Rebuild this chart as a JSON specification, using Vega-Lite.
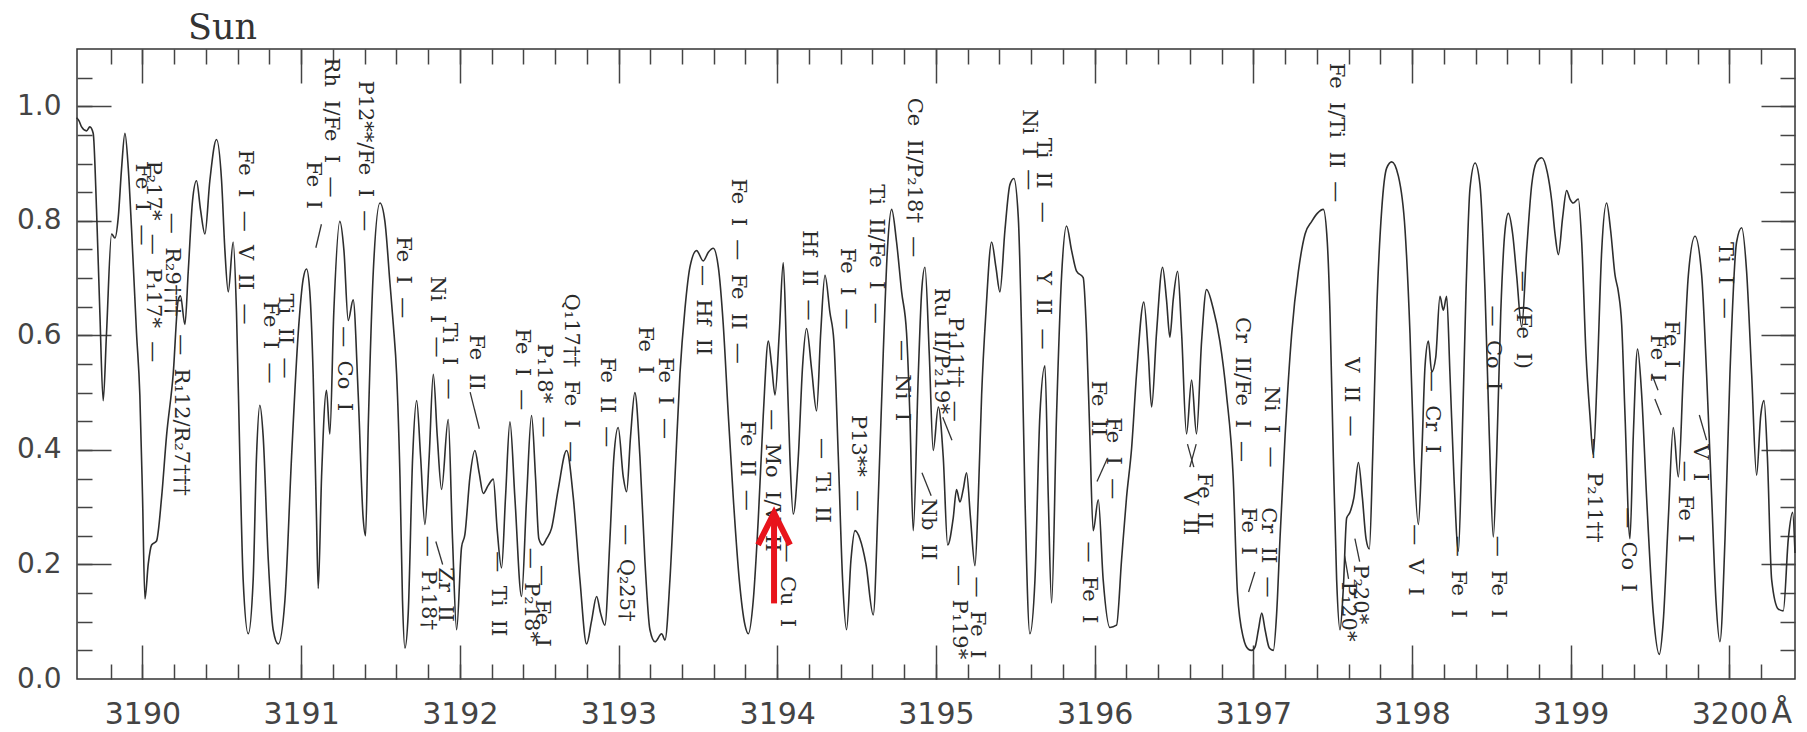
{
  "$schema": "https://vega.github.io/schema/vega-lite/v6.json",
  "width": 1718,
  "height": 630,
  "autosize": {"type": "none"},
  "padding": {"left": 77, "top": 49, "right": 12, "bottom": 53},
  "background": "white",
  "config": {
    "view": {"stroke": "#333333", "strokeWidth": 1.5},
    "axis": {"grid": false, "domain": false, "title": null, "labelFlush": false, "labelOverlap": false, "tickColor": "#444444", "tickWidth": 1.5}
  },
  "title": {"text": "Sun", "anchor": "start", "frame": "group", "dx": 111, "offset": -26, "baseline": "alphabetic", "font": "DejaVu Serif", "fontSize": 35, "fontWeight": "normal", "color": "#333333"},
  "datasets": {
    "spec": [
      {"w":3189.585,"f":0.98},{"w":3189.600,"f":0.975},{"w":3189.617,"f":0.964},{"w":3189.648,"f":0.957},{"w":3189.669,"f":0.964},{"w":3189.690,"f":0.953},{"w":3189.711,"f":0.82},{"w":3189.732,"f":0.64},{"w":3189.753,"f":0.486},{"w":3189.774,"f":0.604},{"w":3189.806,"f":0.777},{"w":3189.827,"f":0.770},{"w":3189.848,"f":0.806},{"w":3189.869,"f":0.892},{"w":3189.890,"f":0.953},{"w":3189.911,"f":0.892},{"w":3189.932,"f":0.784},{"w":3189.963,"f":0.604},{"w":3189.984,"f":0.496},{"w":3190.001,"f":0.317},{"w":3190.016,"f":0.140},{"w":3190.037,"f":0.201},{"w":3190.058,"f":0.234},{"w":3190.089,"f":0.241},{"w":3190.121,"f":0.317},{"w":3190.152,"f":0.424},{"w":3190.194,"f":0.532},{"w":3190.226,"f":0.662},{"w":3190.240,"f":0.669},{"w":3190.268,"f":0.619},{"w":3190.289,"f":0.712},{"w":3190.316,"f":0.835},{"w":3190.341,"f":0.870},{"w":3190.366,"f":0.820},{"w":3190.394,"f":0.777},{"w":3190.425,"f":0.870},{"w":3190.467,"f":0.942},{"w":3190.499,"f":0.870},{"w":3190.520,"f":0.748},{"w":3190.541,"f":0.676},{"w":3190.572,"f":0.763},{"w":3190.593,"f":0.640},{"w":3190.614,"f":0.388},{"w":3190.635,"f":0.173},{"w":3190.667,"f":0.079},{"w":3190.698,"f":0.173},{"w":3190.719,"f":0.388},{"w":3190.740,"f":0.478},{"w":3190.761,"f":0.424},{"w":3190.793,"f":0.209},{"w":3190.824,"f":0.086},{"w":3190.856,"f":0.061},{"w":3190.898,"f":0.137},{"w":3190.940,"f":0.388},{"w":3190.982,"f":0.604},{"w":3191.013,"f":0.698},{"w":3191.034,"f":0.716},{"w":3191.055,"f":0.676},{"w":3191.076,"f":0.532},{"w":3191.097,"f":0.281},{"w":3191.108,"f":0.158},{"w":3191.129,"f":0.353},{"w":3191.160,"f":0.504},{"w":3191.181,"f":0.428},{"w":3191.206,"f":0.640},{"w":3191.244,"f":0.799},{"w":3191.270,"f":0.748},{"w":3191.297,"f":0.626},{"w":3191.328,"f":0.662},{"w":3191.360,"f":0.496},{"w":3191.391,"f":0.281},{"w":3191.406,"f":0.250},
      {"w":3191.423,"f":0.440},{"w":3191.455,"f":0.712},{"w":3191.497,"f":0.831},{"w":3191.528,"f":0.799},{"w":3191.560,"f":0.691},{"w":3191.581,"f":0.619},{"w":3191.602,"f":0.532},{"w":3191.623,"f":0.353},{"w":3191.639,"f":0.137},{"w":3191.654,"f":0.054},{"w":3191.675,"f":0.115},{"w":3191.703,"f":0.388},{"w":3191.728,"f":0.486},{"w":3191.753,"f":0.388},{"w":3191.780,"f":0.270},{"w":3191.807,"f":0.388},{"w":3191.833,"f":0.532},{"w":3191.858,"f":0.424},{"w":3191.885,"f":0.331},{"w":3191.927,"f":0.453},{"w":3191.954,"f":0.245},{"w":3191.980,"f":0.086},{"w":3192.011,"f":0.230},{"w":3192.032,"f":0.252},{"w":3192.064,"f":0.353},{"w":3192.095,"f":0.399},{"w":3192.122,"f":0.360},{"w":3192.148,"f":0.324},{"w":3192.179,"f":0.338},{"w":3192.211,"f":0.349},{"w":3192.236,"f":0.259},{"w":3192.263,"f":0.194},{"w":3192.288,"f":0.317},{"w":3192.316,"f":0.449},{"w":3192.347,"f":0.317},{"w":3192.389,"f":0.144},{"w":3192.421,"f":0.317},{"w":3192.452,"f":0.460},{"w":3192.477,"f":0.353},{"w":3192.498,"f":0.245},{"w":3192.522,"f":0.234},{"w":3192.547,"f":0.245},{"w":3192.578,"f":0.263},{"w":3192.620,"f":0.331},{"w":3192.673,"f":0.399},{"w":3192.715,"f":0.317},{"w":3192.757,"f":0.173},{"w":3192.799,"f":0.061},{"w":3192.830,"f":0.101},{"w":3192.862,"f":0.144},{"w":3192.887,"f":0.115},{"w":3192.914,"f":0.094},{"w":3192.946,"f":0.245},{"w":3192.971,"f":0.388},{"w":3192.998,"f":0.439},{"w":3193.030,"f":0.353},{"w":3193.051,"f":0.327},{"w":3193.076,"f":0.424},{"w":3193.103,"f":0.500},{"w":3193.135,"f":0.388},{"w":3193.166,"f":0.209},{"w":3193.198,"f":0.086},
      {"w":3193.230,"f":0.065},{"w":3193.272,"f":0.079},{"w":3193.293,"f":0.068},{"w":3193.324,"f":0.173},{"w":3193.356,"f":0.353},{"w":3193.387,"f":0.532},{"w":3193.419,"f":0.647},{"w":3193.450,"f":0.719},{"w":3193.492,"f":0.748},{"w":3193.534,"f":0.730},{"w":3193.566,"f":0.745},{"w":3193.597,"f":0.752},{"w":3193.629,"f":0.719},{"w":3193.660,"f":0.619},{"w":3193.692,"f":0.460},{"w":3193.723,"f":0.317},{"w":3193.761,"f":0.173},{"w":3193.797,"f":0.094},{"w":3193.818,"f":0.079},{"w":3193.849,"f":0.137},{"w":3193.881,"f":0.281},{"w":3193.912,"f":0.460},{"w":3193.944,"f":0.590},{"w":3193.965,"f":0.547},{"w":3193.986,"f":0.496},{"w":3194.013,"f":0.604},{"w":3194.038,"f":0.727},{"w":3194.059,"f":0.568},{"w":3194.080,"f":0.388},{"w":3194.101,"f":0.288},{"w":3194.133,"f":0.388},{"w":3194.160,"f":0.547},{"w":3194.185,"f":0.612},{"w":3194.217,"f":0.540},{"w":3194.248,"f":0.468},{"w":3194.274,"f":0.604},{"w":3194.301,"f":0.705},{"w":3194.332,"f":0.640},{"w":3194.357,"f":0.590},{"w":3194.385,"f":0.388},{"w":3194.412,"f":0.173},{"w":3194.437,"f":0.086},{"w":3194.465,"f":0.209},{"w":3194.490,"f":0.259},{"w":3194.521,"f":0.245},{"w":3194.559,"f":0.201},{"w":3194.605,"f":0.112},{"w":3194.637,"f":0.317},{"w":3194.668,"f":0.568},{"w":3194.694,"f":0.748},{"w":3194.721,"f":0.820},{"w":3194.752,"f":0.763},{"w":3194.784,"f":0.676},{"w":3194.815,"f":0.604},{"w":3194.836,"f":0.460},{"w":3194.857,"f":0.259},{"w":3194.889,"f":0.532},{"w":3194.910,"f":0.676},{"w":3194.931,"f":0.719},{"w":3194.958,"f":0.568},{"w":3194.983,"f":0.399},{"w":3195.015,"f":0.475},{"w":3195.046,"f":0.388},{"w":3195.074,"f":0.234},
      {"w":3195.109,"f":0.281},{"w":3195.130,"f":0.331},{"w":3195.151,"f":0.309},{"w":3195.172,"f":0.331},{"w":3195.193,"f":0.360},{"w":3195.218,"f":0.281},{"w":3195.246,"f":0.198},{"w":3195.267,"f":0.317},{"w":3195.288,"f":0.496},{"w":3195.315,"f":0.640},{"w":3195.351,"f":0.763},{"w":3195.378,"f":0.719},{"w":3195.403,"f":0.676},{"w":3195.435,"f":0.784},{"w":3195.466,"f":0.863},{"w":3195.491,"f":0.874},{"w":3195.519,"f":0.806},{"w":3195.540,"f":0.604},{"w":3195.561,"f":0.317},{"w":3195.592,"f":0.079},{"w":3195.624,"f":0.173},{"w":3195.655,"f":0.460},{"w":3195.687,"f":0.547},{"w":3195.708,"f":0.317},{"w":3195.729,"f":0.133},{"w":3195.760,"f":0.460},{"w":3195.792,"f":0.705},{"w":3195.823,"f":0.791},{"w":3195.855,"f":0.748},{"w":3195.886,"f":0.712},{"w":3195.928,"f":0.701},{"w":3195.949,"f":0.604},{"w":3195.970,"f":0.424},{"w":3195.991,"f":0.259},{"w":3196.023,"f":0.313},{"w":3196.054,"f":0.173},{"w":3196.096,"f":0.090},{"w":3196.138,"f":0.094},{"w":3196.170,"f":0.209},{"w":3196.201,"f":0.317},{"w":3196.233,"f":0.403},{"w":3196.264,"f":0.532},{"w":3196.310,"f":0.658},{"w":3196.338,"f":0.568},{"w":3196.359,"f":0.475},{"w":3196.390,"f":0.604},{"w":3196.428,"f":0.719},{"w":3196.453,"f":0.662},{"w":3196.474,"f":0.597},{"w":3196.495,"f":0.662},{"w":3196.523,"f":0.712},{"w":3196.548,"f":0.604},{"w":3196.579,"f":0.428},{"w":3196.611,"f":0.522},{"w":3196.642,"f":0.428},{"w":3196.674,"f":0.590},{"w":3196.705,"f":0.680},{"w":3196.747,"f":0.647},{"w":3196.789,"f":0.590},{"w":3196.831,"f":0.496},{"w":3196.873,"f":0.353},{"w":3196.900,"f":0.150},
      {"w":3196.937,"f":0.072},{"w":3196.969,"f":0.052},{"w":3196.990,"f":0.050},{"w":3197.011,"f":0.056},{"w":3197.032,"f":0.086},{"w":3197.053,"f":0.115},{"w":3197.074,"f":0.086},{"w":3197.101,"f":0.054},{"w":3197.126,"f":0.050},{"w":3197.147,"f":0.115},{"w":3197.168,"f":0.245},{"w":3197.200,"f":0.424},{"w":3197.242,"f":0.604},{"w":3197.284,"f":0.712},{"w":3197.326,"f":0.777},{"w":3197.368,"f":0.799},{"w":3197.403,"f":0.813},{"w":3197.441,"f":0.820},{"w":3197.466,"f":0.763},{"w":3197.483,"f":0.640},{"w":3197.504,"f":0.388},{"w":3197.525,"f":0.173},{"w":3197.546,"f":0.086},{"w":3197.567,"f":0.158},{"w":3197.588,"f":0.281},{"w":3197.609,"f":0.291},{"w":3197.634,"f":0.317},{"w":3197.662,"f":0.378},{"w":3197.687,"f":0.317},{"w":3197.710,"f":0.245},{"w":3197.731,"f":0.227},{"w":3197.752,"f":0.388},{"w":3197.777,"f":0.640},{"w":3197.809,"f":0.820},{"w":3197.840,"f":0.892},{"w":3197.872,"f":0.903},{"w":3197.914,"f":0.878},{"w":3197.956,"f":0.784},{"w":3197.987,"f":0.604},{"w":3198.012,"f":0.388},{"w":3198.040,"f":0.270},{"w":3198.061,"f":0.388},{"w":3198.082,"f":0.547},{"w":3198.103,"f":0.590},{"w":3198.124,"f":0.536},{"w":3198.149,"f":0.561},{"w":3198.176,"f":0.668},{"w":3198.197,"f":0.644},{"w":3198.218,"f":0.668},{"w":3198.239,"f":0.532},{"w":3198.264,"f":0.353},{"w":3198.292,"f":0.223},{"w":3198.313,"f":0.388},{"w":3198.340,"f":0.676},{"w":3198.365,"f":0.856},{"w":3198.397,"f":0.901},{"w":3198.428,"f":0.863},{"w":3198.460,"f":0.676},{"w":3198.487,"f":0.424},{"w":3198.512,"f":0.248},{"w":3198.533,"f":0.388},{"w":3198.559,"f":0.640},{"w":3198.586,"f":0.784},{"w":3198.607,"f":0.813},{"w":3198.634,"f":0.777},{"w":3198.659,"f":0.705},{"w":3198.691,"f":0.615},
      {"w":3198.722,"f":0.748},{"w":3198.754,"f":0.863},{"w":3198.785,"f":0.903},{"w":3198.817,"f":0.910},{"w":3198.852,"f":0.885},{"w":3198.880,"f":0.835},{"w":3198.901,"f":0.777},{"w":3198.922,"f":0.741},{"w":3198.949,"f":0.806},{"w":3198.974,"f":0.853},{"w":3198.995,"f":0.838},{"w":3199.016,"f":0.831},{"w":3199.048,"f":0.838},{"w":3199.069,"f":0.763},{"w":3199.096,"f":0.568},{"w":3199.121,"f":0.460},{"w":3199.142,"f":0.392},{"w":3199.167,"f":0.532},{"w":3199.195,"f":0.748},{"w":3199.226,"f":0.831},{"w":3199.251,"f":0.784},{"w":3199.279,"f":0.705},{"w":3199.300,"f":0.676},{"w":3199.321,"f":0.619},{"w":3199.342,"f":0.460},{"w":3199.373,"f":0.245},{"w":3199.394,"f":0.424},{"w":3199.421,"f":0.576},{"w":3199.447,"f":0.496},{"w":3199.478,"f":0.317},{"w":3199.520,"f":0.115},{"w":3199.558,"f":0.043},{"w":3199.583,"f":0.101},{"w":3199.615,"f":0.281},{"w":3199.646,"f":0.439},{"w":3199.678,"f":0.353},{"w":3199.709,"f":0.532},{"w":3199.741,"f":0.705},{"w":3199.783,"f":0.773},{"w":3199.825,"f":0.705},{"w":3199.856,"f":0.532},{"w":3199.888,"f":0.317},{"w":3199.915,"f":0.137},{"w":3199.940,"f":0.065},{"w":3199.972,"f":0.245},{"w":3200.003,"f":0.532},{"w":3200.045,"f":0.763},{"w":3200.077,"f":0.788},{"w":3200.108,"f":0.712},{"w":3200.140,"f":0.532},{"w":3200.171,"f":0.356},{"w":3200.197,"f":0.460},{"w":3200.218,"f":0.486},{"w":3200.239,"f":0.388},{"w":3200.266,"f":0.173},{"w":3200.308,"f":0.122},{"w":3200.339,"f":0.119},{"w":3200.371,"f":0.245},{"w":3200.398,"f":0.291},{"w":3200.413,"f":0.220}
    ],
    "labels": [
      {"w":3189.995,"f":0.900,"t":"Fe\u2007I\u2007—"},
      {"w":3190.068,"f":0.905,"t":"P₂17*\u2007—\u2007P₁17*\u2007—"},
      {"w":3190.184,"f":0.814,"t":"—\u2007R₂9†††"},
      {"w":3190.242,"f":0.602,"t":"—\u2007R₁12/R₂7†††"},
      {"w":3190.649,"f":0.924,"t":"Fe\u2007I\u2007—\u2007V\u2007II\u2007—"},
      {"w":3190.896,"f":0.673,"t":"Ti\u2007II\u2007—"},
      {"w":3190.802,"f":0.659,"t":"Fe\u2007I\u2007—"},
      {"w":3191.186,"f":1.085,"t":"Rh\u2007I/Fe\u2007I\u2007—"},
      {"w":3191.077,"f":0.904,"t":"Fe\u2007I"},
      {"w":3191.404,"f":1.045,"t":"P12**/Fe\u2007I\u2007—"},
      {"w":3191.273,"f":0.616,"t":"—\u2007Co\u2007I"},
      {"w":3191.644,"f":0.773,"t":"Fe\u2007I\u2007—"},
      {"w":3191.854,"f":0.703,"t":"Ni\u2007I\u2007—"},
      {"w":3191.934,"f":0.622,"t":"Ti\u2007I\u2007—"},
      {"w":3192.101,"f":0.602,"t":"Fe\u2007II"},
      {"w":3192.392,"f":0.612,"t":"Fe\u2007I\u2007—"},
      {"w":3192.530,"f":0.586,"t":"P₁18*\u2007—"},
      {"w":3192.700,"f":0.673,"t":"Q₁17††\u2007Fe\u2007I\u2007—"},
      {"w":3192.929,"f":0.562,"t":"Fe\u2007II\u2007—"},
      {"w":3193.169,"f":0.616,"t":"Fe\u2007I"},
      {"w":3193.292,"f":0.562,"t":"Fe\u2007I\u2007—"},
      {"w":3193.045,"f":0.270,"t":"—\u2007Q₂25†"},
      {"w":3191.798,"f":0.250,"t":"—\u2007P₁18†"},
      {"w":3191.905,"f":0.195,"t":"Zr\u2007II"},
      {"w":3192.239,"f":0.223,"t":"—\u2007Ti\u2007II"},
      {"w":3192.450,"f":0.229,"t":"—\u2007P₂18*"},
      {"w":3192.515,"f":0.199,"t":"—\u2007Fe\u2007I"},
      {"w":3193.750,"f":0.874,"t":"Fe\u2007I\u2007—\u2007Fe\u2007II\u2007—"},
      {"w":3193.532,"f":0.723,"t":"—\u2007Hf\u2007II"},
      {"w":3193.808,"f":0.451,"t":"Fe\u2007II\u2007—"},
      {"w":3193.968,"f":0.471,"t":"—\u2007Mo\u2007I/V\u2007II"},
      {"w":3194.062,"f":0.240,"t":"—\u2007Cu\u2007I"},
      {"w":3194.200,"f":0.784,"t":"Hf\u2007II\u2007—"},
      {"w":3194.280,"f":0.421,"t":"—\u2007Ti\u2007II"},
      {"w":3194.440,"f":0.753,"t":"Fe\u2007I\u2007—"},
      {"w":3194.621,"f":0.864,"t":"Ti\u2007II/Fe\u2007I\u2007—"},
      {"w":3194.861,"f":1.015,"t":"Ce\u2007II/P₂18†\u2007—"},
      {"w":3194.788,"f":0.592,"t":"—\u2007Ni\u2007I"},
      {"w":3194.512,"f":0.461,"t":"P13**\u2007—"},
      {"w":3195.035,"f":0.683,"t":"Ru\u2007II/P₂19*"},
      {"w":3195.122,"f":0.632,"t":"P₁11††\u2007—"},
      {"w":3194.948,"f":0.315,"t":"Nb\u2007II"},
      {"w":3195.144,"f":0.199,"t":"—\u2007P₁19*"},
      {"w":3195.260,"f":0.179,"t":"—\u2007Fe\u2007I"},
      {"w":3195.587,"f":0.995,"t":"Ni\u2007I\u2007—"},
      {"w":3195.675,"f":0.945,"t":"Ti\u2007II\u2007—"},
      {"w":3195.675,"f":0.712,"t":"Y\u2007II\u2007—"},
      {"w":3196.023,"f":0.521,"t":"Fe\u2007II"},
      {"w":3196.117,"f":0.457,"t":"Fe\u2007I\u2007—"},
      {"w":3195.965,"f":0.240,"t":"—\u2007Fe\u2007I"},
      {"w":3196.690,"f":0.360,"t":"Fe\u2007II"},
      {"w":3196.604,"f":0.330,"t":"V\u2007II"},
      {"w":3196.930,"f":0.632,"t":"Cr\u2007II/Fe\u2007I\u2007—"},
      {"w":3197.112,"f":0.511,"t":"Ni\u2007I\u2007—"},
      {"w":3197.090,"f":0.300,"t":"Cr\u2007II\u2007—"},
      {"w":3196.966,"f":0.300,"t":"Fe\u2007I"},
      {"w":3197.520,"f":1.076,"t":"Fe\u2007I/Ti\u2007II\u2007—"},
      {"w":3197.613,"f":0.562,"t":"V\u2007II\u2007—"},
      {"w":3197.671,"f":0.200,"t":"P₂20*"},
      {"w":3197.599,"f":0.170,"t":"P₁20*"},
      {"w":3198.128,"f":0.538,"t":"—\u2007Cr\u2007I"},
      {"w":3198.019,"f":0.270,"t":"—\u2007V\u2007I"},
      {"w":3198.288,"f":0.250,"t":"—\u2007Fe\u2007I"},
      {"w":3198.513,"f":0.652,"t":"—\u2007Co\u2007I"},
      {"w":3198.542,"f":0.250,"t":"—\u2007Fe\u2007I"},
      {"w":3198.702,"f":0.713,"t":"—\u2007(Fe\u2007I)"},
      {"w":3199.145,"f":0.421,"t":"—\u2007P₂11††"},
      {"w":3199.363,"f":0.300,"t":"—\u2007Co\u2007I"},
      {"w":3199.545,"f":0.602,"t":"Fe\u2007I"},
      {"w":3199.632,"f":0.626,"t":"Fe\u2007I"},
      {"w":3199.814,"f":0.410,"t":"V\u2007I"},
      {"w":3199.720,"f":0.381,"t":"—\u2007Fe\u2007I"},
      {"w":3199.972,"f":0.763,"t":"Ti\u2007I\u2007—"}
    ],
    "leaders": [
      {"w":3191.093,"f":0.753,"w2":3191.128,"f2":0.794},
      {"w":3192.065,"f":0.501,"w2":3192.123,"f2":0.437},
      {"w":3191.849,"f":0.240,"w2":3191.892,"f2":0.200},
      {"w":3194.912,"f":0.360,"w2":3194.970,"f2":0.320},
      {"w":3195.043,"f":0.457,"w2":3195.101,"f2":0.417},
      {"w":3196.015,"f":0.345,"w2":3196.080,"f2":0.385},
      {"w":3196.585,"f":0.410,"w2":3196.625,"f2":0.370},
      {"w":3196.640,"f":0.410,"w2":3196.600,"f2":0.370},
      {"w":3196.970,"f":0.152,"w2":3197.010,"f2":0.187},
      {"w":3197.640,"f":0.245,"w2":3197.670,"f2":0.205},
      {"w":3197.575,"f":0.215,"w2":3197.600,"f2":0.175},
      {"w":3199.510,"f":0.533,"w2":3199.550,"f2":0.504},
      {"w":3199.530,"f":0.489,"w2":3199.570,"f2":0.461},
      {"w":3199.810,"f":0.461,"w2":3199.856,"f2":0.417}
    ],
    "one": [{"w":3195,"f":0.5}]
  },
  "resolve": {"axis": {"x": "independent", "y": "independent"}},
  "layer": [
    {
      "data": {"name": "spec"},
      "mark": {"type": "line", "color": "#2e2e2e", "strokeWidth": 1.6, "interpolate": "monotone"},
      "encoding": {
        "x": {"field": "w", "type": "quantitative", "scale": {"domain": [3189.588, 3200.413], "nice": false, "zero": false},
          "axis": {"orient": "bottom", "values": [3190,3191,3192,3193,3194,3195,3196,3197,3198,3199,3200], "format": "d", "ticks": false, "labelPadding": 20, "labelFont": "DejaVu Sans", "labelFontSize": 30, "labelColor": "#444444"}},
        "y": {"field": "f", "type": "quantitative", "scale": {"domain": [0, 1.1], "nice": false, "zero": false},
          "axis": {"orient": "left", "values": [0,0.2,0.4,0.6,0.8,1.0], "format": ".1f", "ticks": false, "labelPadding": 16, "labelFont": "DejaVu Sans", "labelFontSize": 28, "labelColor": "#444444"}}
      }
    },
    {
      "data": {"name": "one"},
      "mark": {"type": "point", "opacity": 0},
      "encoding": {
        "x": {"field": "w", "type": "quantitative", "scale": {"domain": [3189.588, 3200.413], "nice": false, "zero": false},
          "axis": {"orient": "bottom", "labels": false, "tickSize": -15, "values": [3189.8,3190,3190.2,3190.4,3190.6,3190.8,3191,3191.2,3191.4,3191.6,3191.8,3192,3192.2,3192.4,3192.6,3192.8,3193,3193.2,3193.4,3193.6,3193.8,3194,3194.2,3194.4,3194.6,3194.8,3195,3195.2,3195.4,3195.6,3195.8,3196,3196.2,3196.4,3196.6,3196.8,3197,3197.2,3197.4,3197.6,3197.8,3198,3198.2,3198.4,3198.6,3198.8,3199,3199.2,3199.4,3199.6,3199.8,3200,3200.2]}},
        "y": {"field": "f", "type": "quantitative", "scale": {"domain": [0, 1.1], "nice": false, "zero": false},
          "axis": {"orient": "left", "labels": false, "tickSize": -15, "values": [0.05,0.1,0.15,0.2,0.25,0.3,0.35,0.4,0.45,0.5,0.55,0.6,0.65,0.7,0.75,0.8,0.85,0.9,0.95,1.0,1.05]}}
      }
    },
    {
      "data": {"name": "one"},
      "mark": {"type": "point", "opacity": 0},
      "encoding": {
        "x": {"field": "w", "type": "quantitative", "scale": {"domain": [3189.588, 3200.413], "nice": false, "zero": false},
          "axis": {"orient": "bottom", "labels": false, "tickSize": -34, "values": [3190,3191,3192,3193,3194,3195,3196,3197,3198,3199,3200]}},
        "y": {"field": "f", "type": "quantitative", "scale": {"domain": [0, 1.1], "nice": false, "zero": false},
          "axis": {"orient": "left", "labels": false, "tickSize": -34, "values": [0.2,0.4,0.6,0.8,1.0]}}
      }
    },
    {
      "data": {"name": "one"},
      "mark": {"type": "point", "opacity": 0},
      "encoding": {
        "x": {"field": "w", "type": "quantitative", "scale": {"domain": [3189.588, 3200.413], "nice": false, "zero": false},
          "axis": {"orient": "top", "labels": false, "tickSize": -15, "values": [3189.8,3190,3190.2,3190.4,3190.6,3190.8,3191,3191.2,3191.4,3191.6,3191.8,3192,3192.2,3192.4,3192.6,3192.8,3193,3193.2,3193.4,3193.6,3193.8,3194,3194.2,3194.4,3194.6,3194.8,3195,3195.2,3195.4,3195.6,3195.8,3196,3196.2,3196.4,3196.6,3196.8,3197,3197.2,3197.4,3197.6,3197.8,3198,3198.2,3198.4,3198.6,3198.8,3199,3199.2,3199.4,3199.6,3199.8,3200,3200.2]}},
        "y": {"field": "f", "type": "quantitative", "scale": {"domain": [0, 1.1], "nice": false, "zero": false},
          "axis": {"orient": "right", "labels": false, "tickSize": -15, "values": [0.05,0.1,0.15,0.2,0.25,0.3,0.35,0.4,0.45,0.5,0.55,0.6,0.65,0.7,0.75,0.8,0.85,0.9,0.95,1.0,1.05]}}
      }
    },
    {
      "data": {"name": "one"},
      "mark": {"type": "point", "opacity": 0},
      "encoding": {
        "x": {"field": "w", "type": "quantitative", "scale": {"domain": [3189.588, 3200.413], "nice": false, "zero": false},
          "axis": {"orient": "top", "labels": false, "tickSize": -34, "values": [3190,3191,3192,3193,3194,3195,3196,3197,3198,3199,3200]}},
        "y": {"field": "f", "type": "quantitative", "scale": {"domain": [0, 1.1], "nice": false, "zero": false},
          "axis": {"orient": "right", "labels": false, "tickSize": -34, "values": [0.2,0.4,0.6,0.8,1.0]}}
      }
    },
    {
      "data": {"name": "leaders"},
      "mark": {"type": "rule", "color": "#333333", "strokeWidth": 1.3},
      "encoding": {
        "x": {"field": "w", "type": "quantitative", "scale": {"domain": [3189.588, 3200.413], "nice": false, "zero": false}, "axis": null},
        "y": {"field": "f", "type": "quantitative", "scale": {"domain": [0, 1.1], "nice": false, "zero": false}, "axis": null},
        "x2": {"field": "w2"},
        "y2": {"field": "f2"}
      }
    },
    {
      "data": {"name": "labels"},
      "mark": {"type": "text", "angle": 90, "align": "left", "baseline": "middle", "font": "DejaVu Serif", "fontSize": 21, "color": "#2a2a2a"},
      "encoding": {
        "x": {"field": "w", "type": "quantitative", "scale": {"domain": [3189.588, 3200.413], "nice": false, "zero": false}, "axis": null},
        "y": {"field": "f", "type": "quantitative", "scale": {"domain": [0, 1.1], "nice": false, "zero": false}, "axis": null},
        "text": {"field": "t", "type": "nominal"}
      }
    },
    {
      "data": {"values": [{"w": 3200.33, "f": -0.077, "t": "Å"}]},
      "mark": {"type": "text", "align": "center", "baseline": "alphabetic", "font": "DejaVu Sans", "fontSize": 30, "color": "#444444"},
      "encoding": {
        "x": {"field": "w", "type": "quantitative", "scale": {"domain": [3189.588, 3200.413], "nice": false, "zero": false}, "axis": null},
        "y": {"field": "f", "type": "quantitative", "scale": {"domain": [0, 1.1], "nice": false, "zero": false}, "axis": null},
        "text": {"field": "t", "type": "nominal"}
      }
    },
    {
      "data": {"values": [{"w": 3193.98, "f": 0.132, "f2": 0.284}]},
      "mark": {"type": "rule", "color": "#e8141c", "strokeWidth": 6},
      "encoding": {
        "x": {"field": "w", "type": "quantitative", "scale": {"domain": [3189.588, 3200.413], "nice": false, "zero": false}, "axis": null},
        "y": {"field": "f", "type": "quantitative", "scale": {"domain": [0, 1.1], "nice": false, "zero": false}, "axis": null},
        "y2": {"field": "f2"}
      }
    },
    {
      "data": {"values": [{"w": 3193.98, "f": 0.262}]},
      "mark": {"type": "point", "shape": "M -1 1 L 0 -1 L 1 1", "size": 1024, "filled": false, "stroke": "#e8141c", "strokeWidth": 6, "opacity": 1, "strokeJoin": "miter"},
      "encoding": {
        "x": {"field": "w", "type": "quantitative", "scale": {"domain": [3189.588, 3200.413], "nice": false, "zero": false}, "axis": null},
        "y": {"field": "f", "type": "quantitative", "scale": {"domain": [0, 1.1], "nice": false, "zero": false}, "axis": null}
      }
    }
  ]
}
